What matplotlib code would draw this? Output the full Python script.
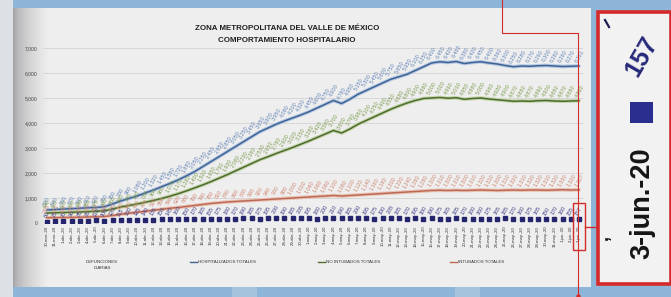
import matplotlib
matplotlib.use("Agg")
import matplotlib.pyplot as plt
import numpy as np
import pandas as pd
from matplotlib.patches import Rectangle
from matplotlib.lines import Line2D

plt.rcParams['font.family'] = ['Liberation Sans', 'DejaVu Sans']

# ---------------- data ----------------
title_lines = ["ZONA METROPOLITANA DEL VALLE DE MÉXICO", "COMPORTAMIENTO HOSPITALARIO"]
start_date = "2020-03-30"
n_days = 66
meses = {3: "mar.", 4: "abr.", 5: "may.", 6: "jun."}
dates = pd.date_range(start_date, periods=n_days, freq="D")
date_labels = [f"{d.day}-{meses[d.month]}-{d.strftime('%y')}" for d in dates]

legend_labels = ["DEFUNCIONES\nDIARIAS", "HOSPITALIZADOS TOTALES",
                 "NO INTUBADOS TOTALES", "INTUBADOS TOTALES"]

hospitalizados = [520, 540, 560, 570, 590, 610, 620, 650, 760, 880, 980, 1080, 1200, 1320,
                  1450, 1580, 1720, 1880, 2050, 2250, 2450, 2650, 2850, 3050, 3250, 3450,
                  3650, 3800, 3950, 4080, 4200, 4320, 4450, 4600, 4750, 4900, 4780, 4950,
                  5150, 5300, 5450, 5600, 5750, 5850, 5950, 6100, 6250, 6400, 6450, 6420,
                  6460, 6380, 6420, 6450, 6400, 6360, 6300, 6250, 6280, 6270, 6290, 6300,
                  6280, 6260, 6270, 6281]
no_intubados = [400, 410, 420, 430, 440, 455, 470, 490, 560, 640, 700, 760, 830, 900, 980,
                1070, 1170, 1280, 1400, 1520, 1650, 1790, 1930, 2080, 2230, 2380, 2530, 2650,
                2780, 2900, 3020, 3150, 3280, 3420, 3560, 3700, 3600, 3760, 3950, 4100, 4250,
                4400, 4550, 4680, 4800, 4900, 4980, 5000, 5020, 4990, 5010, 4950, 4980, 5000,
                4960, 4930, 4900, 4870, 4880, 4870, 4890, 4900, 4880, 4870, 4880, 4890]
intubados = [210, 215, 220, 225, 230, 240, 250, 260, 300, 350, 390, 430, 470, 510, 550, 590,
             620, 660, 700, 740, 780, 810, 840, 860, 880, 900, 920, 940, 960, 980, 1000, 1020,
             1040, 1060, 1080, 1100, 1080, 1100, 1120, 1140, 1160, 1180, 1200, 1220, 1240,
             1260, 1280, 1300, 1310, 1300, 1310, 1300, 1310, 1320, 1310, 1300, 1310, 1320,
             1310, 1320, 1320, 1310, 1320, 1330, 1320, 1327]
diarios = [60, 75, 70, 90, 85, 95, 110, 100, 120, 115, 130, 125, 140, 135, 150, 145, 160, 150,
           170, 165, 155, 175, 180, 170, 190, 185, 175, 195, 200, 190, 185, 205, 195, 180, 200,
           210, 190, 185, 200, 195, 175, 190, 205, 185, 170, 195, 180, 190, 175, 165, 185, 170,
           180, 160, 175, 165, 185, 170, 160, 175, 165, 150, 170, 160, 155, 157]

yticks = [0, 1000, 2000, 3000, 4000, 5000, 6000, 7000]
ytick_labels = ["0", "1,000", "2,000", "3,000", "4,000", "5,000", "6,000", "7,000"]

inset_value = "157"
inset_date = "3-jun.-20"

# ---------------- figure ----------------
W, H = 671, 297
fig = plt.figure(figsize=(W / 100, H / 100), dpi=100)
fig.patch.set_facecolor('#8db5d7')

bg = fig.add_axes([0, 0, 1, 1], zorder=0)
bg.set_xlim(0, W); bg.set_ylim(H, 0); bg.axis('off')
card = '#eeeeee'
bg.add_patch(Rectangle((0, 8), 591, 279, facecolor=card, edgecolor='none'))
bg.add_patch(Rectangle((0, 0), 13, H, facecolor='#dde1e5', edgecolor='none'))
t = np.linspace(0, 1, 80) ** 0.55
c0 = np.array([0.62, 0.62, 0.63]); c1 = np.array([0.933, 0.933, 0.933])
grad = (c0[None, :] * (1 - t[:, None]) + c1[None, :] * t[:, None])[None, :, :]
bg.imshow(grad, extent=(13, 48, 287, 8), aspect='auto', zorder=1)
bg.set_xlim(0, W); bg.set_ylim(H, 0)
for xb in (232, 455):
    bg.add_patch(Rectangle((xb, 287), 25, 10, facecolor='#a6c3dd', edgecolor='none'))

# title
bg.text(287, 28, title_lines[0], ha='center', va='center', fontsize=5.7,
        fontweight='bold', color='#1e1e1e')
bg.text(287, 40, title_lines[1], ha='center', va='center', fontsize=5.7,
        fontweight='bold', color='#1e1e1e')

# ---------------- main chart ----------------
ax = fig.add_axes([43 / W, 1 - 223 / H, 540 / W, 175 / H], zorder=1)
ax.set_facecolor('none')
x = np.arange(n_days)

series = [
    (hospitalizados, '#3f6394', '#b3c6e2', '#6485b8'),
    (no_intubados, '#4d6a30', '#c3d4a5', '#7c9c4f'),
    (intubados, '#bb6a56', '#ecc2b3', '#cf8770'),
]
for vals, lc, glow, labc in series:
    ax.plot(x, vals, color=glow, lw=2.6, solid_capstyle='round', zorder=2)
    ax.plot(x, vals, color=lc, lw=1.1, zorder=3)
    for i, v in enumerate(vals):
        ax.annotate(f"{v:,}", (i, v), xytext=(0, 2.2), textcoords='offset points',
                    rotation=60, ha='center', va='bottom', fontsize=3.9, color=labc,
                    zorder=4)

ax.plot(x, diarios, ls='none', marker='s', ms=2.5, color='#25256e', zorder=3)
for i, v in enumerate(diarios):
    ax.annotate(f"{v:,}", (i, v), xytext=(0, 2.2), textcoords='offset points',
                rotation=60, ha='center', va='bottom', fontsize=3.9, color='#3f4288',
                zorder=4)

ax.set_xlim(-0.5, n_days - 0.5)
ax.set_ylim(0, 7000)
ax.set_yticks(yticks)
ax.set_yticklabels(ytick_labels, fontsize=3.6, color='#444444')
ax.set_xticks(x)
ax.set_xticklabels(date_labels, rotation=90, fontsize=3.1, color='#333333')
ax.tick_params(axis='both', length=0)
ax.tick_params(axis='y', pad=4)
ax.tick_params(axis='x', pad=2)
ax.grid(axis='y', color='#d3d3d3', lw=0.6)
ax.set_axisbelow(True)
for s in ax.spines.values():
    s.set_visible(False)

# legend (drawn manually, as in the source image)
bg.text(102, 262, legend_labels[0].split("\n")[0], ha='center', va='center',
        fontsize=3.2, color='#333333')
bg.text(102, 268, legend_labels[0].split("\n")[1], ha='center', va='center',
        fontsize=3.2, color='#333333')
leg_pos = [(190, '#3f6394'), (318, '#4d6a30'), (450, '#bb6a56')]
for (lx, lc), lab in zip(leg_pos, legend_labels[1:]):
    bg.add_line(Line2D([lx, lx + 7], [262, 262], color=lc, lw=1.0))
    bg.text(lx + 8, 262, lab, ha='left', va='center', fontsize=3.2, color='#333333')

# ---------------- overlay (callout) ----------------
ov = fig.add_axes([0, 0, 1, 1], zorder=5)
ov.set_xlim(0, W); ov.set_ylim(H, 0); ov.axis('off')
red = '#d42a2a'
ov.add_patch(Rectangle((597.5, 11.5), 73, 272, facecolor='#f2f2f2', edgecolor=red, lw=2.6))
ov.add_line(Line2D([502, 502, 578, 578], [0, 33, 33, 297], color=red, lw=0.8))
ov.add_patch(Rectangle((573, 203), 12, 47, facecolor='none', edgecolor=red, lw=1.0))
ov.add_line(Line2D([585, 597], [227, 227], color=red, lw=1.0))
ov.plot([578], [295.5], marker='o', ms=2.2, color=red)

ov.text(642, 56, inset_value, rotation=60, ha='center', va='center', fontsize=18,
        fontweight='bold', color='#26287a')
ov.add_patch(Rectangle((630, 102), 23, 21, facecolor='#2b2d8e', edgecolor='none'))
ov.text(642, 203, inset_date, rotation=90, ha='center', va='center', fontsize=19.5,
        fontweight='bold', color='#151515')
ov.add_line(Line2D([605, 609], [20, 27], color='#1e1e55', lw=1.6))
ov.text(603, 238, ",", rotation=90, ha='center', va='center', fontsize=13,
        fontweight='bold', color='#151515')

fig.savefig("out.png", dpi=100, facecolor=fig.get_facecolor())
